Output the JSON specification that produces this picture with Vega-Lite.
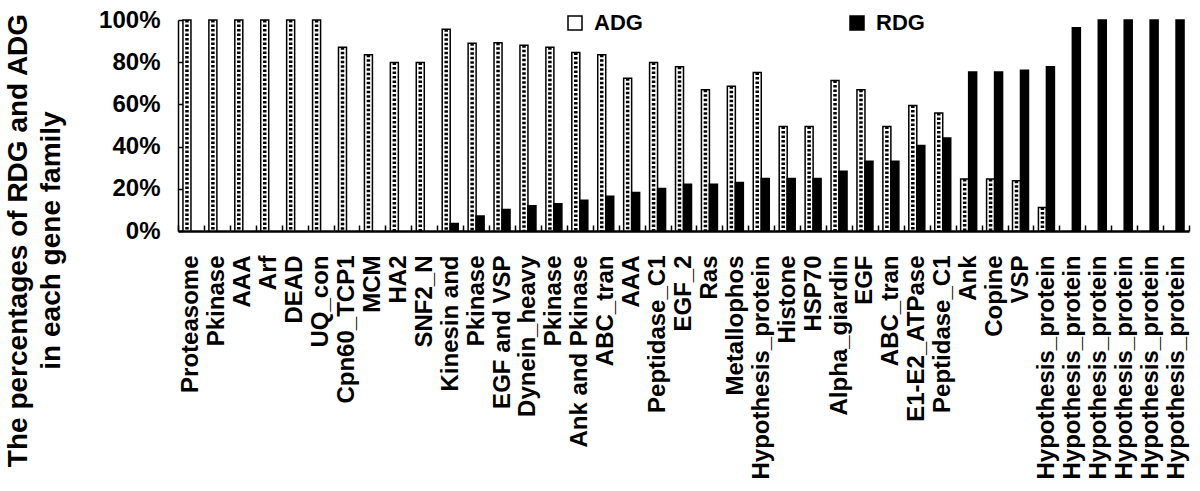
{
  "$schema": "https://vega.github.io/schema/vega-lite/v6.json",
  "width": 1011,
  "height": 211,
  "autosize": "none",
  "padding": {"left": 178, "top": 20, "right": 11, "bottom": 260},
  "background": "white",
  "config": {"font": "Liberation Sans", "view": {"stroke": null}},
  "datasets": {
    "families": [
      {"key": "Proteasome|1", "ADG": 100, "RDG": 0},
      {"key": "Pkinase|2", "ADG": 100, "RDG": 0},
      {"key": "AAA|3", "ADG": 100, "RDG": 0},
      {"key": "Arf|4", "ADG": 100, "RDG": 0},
      {"key": "DEAD|5", "ADG": 100, "RDG": 0},
      {"key": "UQ_con|6", "ADG": 100, "RDG": 0},
      {"key": "Cpn60_TCP1|7", "ADG": 87.1, "RDG": 0},
      {"key": "MCM|8", "ADG": 83.5, "RDG": 0},
      {"key": "HA2|9", "ADG": 79.8, "RDG": 0},
      {"key": "SNF2_N|10", "ADG": 79.8, "RDG": 0},
      {"key": "Kinesin and|11", "ADG": 95.6, "RDG": 3.6},
      {"key": "Pkinase|12", "ADG": 89.0, "RDG": 7.1},
      {"key": "EGF and VSP|13", "ADG": 89.2, "RDG": 10.2},
      {"key": "Dynein_heavy|14", "ADG": 88.0, "RDG": 12.0},
      {"key": "Pkinase|15", "ADG": 87.1, "RDG": 12.9},
      {"key": "Ank and Pkinase|16", "ADG": 84.6, "RDG": 14.6},
      {"key": "ABC_tran|17", "ADG": 83.5, "RDG": 16.5},
      {"key": "AAA|18", "ADG": 72.4, "RDG": 18.3},
      {"key": "Peptidase_C1|19", "ADG": 79.8, "RDG": 20.2},
      {"key": "EGF_2|20", "ADG": 77.9, "RDG": 22.1},
      {"key": "Ras|21", "ADG": 66.9, "RDG": 22.1},
      {"key": "Metallophos|22", "ADG": 68.6, "RDG": 23.0},
      {"key": "Hypothesis_protein|23", "ADG": 75.1, "RDG": 24.9},
      {"key": "Histone|24", "ADG": 49.5, "RDG": 24.9},
      {"key": "HSP70|25", "ADG": 49.5, "RDG": 24.9},
      {"key": "Alpha_giardin|26", "ADG": 71.3, "RDG": 28.3},
      {"key": "EGF|27", "ADG": 66.9, "RDG": 33.1},
      {"key": "ABC_tran|28", "ADG": 49.5, "RDG": 33.1},
      {"key": "E1-E2_ATPase|29", "ADG": 59.5, "RDG": 40.5},
      {"key": "Peptidase_C1|30", "ADG": 55.9, "RDG": 44.1},
      {"key": "Ank|31", "ADG": 24.6, "RDG": 75.3},
      {"key": "Copine|32", "ADG": 24.6, "RDG": 75.3},
      {"key": "VSP|33", "ADG": 23.8, "RDG": 76.2},
      {"key": "Hypothesis_protein|34", "ADG": 11.1, "RDG": 77.8},
      {"key": "Hypothesis_protein|35", "ADG": 0, "RDG": 96.3},
      {"key": "Hypothesis_protein|36", "ADG": 0, "RDG": 100},
      {"key": "Hypothesis_protein|37", "ADG": 0, "RDG": 100},
      {"key": "Hypothesis_protein|38", "ADG": 0, "RDG": 100},
      {"key": "Hypothesis_protein|39", "ADG": 0, "RDG": 100}
    ]
  },
  "data": {"name": "families"},
  "transform": [
    {"fold": ["ADG", "RDG"], "as": ["series", "value"]},
    {"filter": "datum.value > 0"}
  ],
  "encoding": {
    "x": {
      "field": "key",
      "type": "nominal",
      "sort": null,
      "scale": {"paddingInner": 0, "paddingOuter": 0},
      "axis": {
        "title": null,
        "labelExpr": "split(datum.label, '|')[0]",
        "labelAngle": 270,
        "labelAlign": "right",
        "labelBaseline": "middle",
        "labelFont": "Liberation Sans",
        "labelFontSize": 24,
        "labelFontWeight": "bold",
        "labelColor": "black",
        "labelLimit": 400,
        "labelOverlap": false,
        "labelPadding": 30,
        "tickBand": "extent",
        "tickSize": -6,
        "tickColor": "black",
        "tickWidth": 1.5,
        "domainColor": "black",
        "domainWidth": 2.5
      }
    },
    "xOffset": {
      "field": "series",
      "type": "nominal",
      "scale": {"domain": ["ADG", "RDG"], "paddingInner": 0, "paddingOuter": 0.62}
    },
    "y": {
      "field": "value",
      "type": "quantitative",
      "scale": {"domain": [0, 100]},
      "axis": {
        "title": ["The percentages of RDG and ADG", "in each gene family"],
        "titleFont": "Liberation Sans",
        "titleFontSize": 28,
        "titleFontWeight": "bold",
        "titleColor": "black",
        "titleLineHeight": 33,
        "titleAngle": 270,
        "titleAlign": "center",
        "titleBaseline": "top",
        "titleX": -174,
        "titleY": 220,
        "values": [0, 20, 40, 60, 80, 100],
        "labelExpr": "datum.value + '%'",
        "labelFont": "Liberation Sans",
        "labelFontSize": 24,
        "labelFontWeight": "bold",
        "labelColor": "black",
        "labelPadding": 23,
        "tickSize": -5,
        "tickColor": "black",
        "tickWidth": 1.5,
        "domainColor": "black",
        "domainWidth": 1.5,
        "grid": false
      }
    }
  },
  "layer": [
    {
      "mark": {"type": "bar", "stroke": "black", "strokeWidth": 1.5},
      "encoding": {
        "fill": {
          "field": "series",
          "type": "nominal",
          "scale": {"domain": ["ADG", "RDG"], "range": ["white", "black"]},
          "legend": {
            "title": null,
            "orient": "none",
            "direction": "horizontal",
            "legendX": 386,
            "legendY": -8,
            "padding": 0,
            "columnPadding": 203,
            "symbolType": "square",
            "symbolSize": 196,
            "symbolStrokeColor": "black",
            "symbolStrokeWidth": 1.5,
            "labelFont": "Liberation Sans",
            "labelFontSize": 22,
            "labelFontWeight": "bold",
            "labelColor": "black",
            "labelOffset": 8
          }
        }
      }
    },
    {
      "transform": [{"filter": "datum.series === 'ADG'"}],
      "mark": {"type": "rule", "color": "black", "strokeWidth": 3.5, "strokeDash": [2.5, 2]},
      "encoding": {"y2": {"datum": 0}}
    }
  ]
}
